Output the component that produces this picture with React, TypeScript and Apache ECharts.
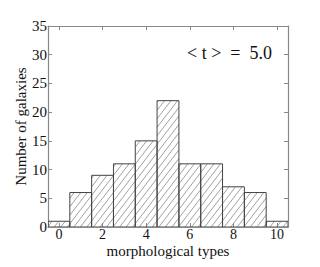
import React, { useEffect, useRef } from "react";
import * as echarts from "echarts";

const types = [0, 1, 2, 3, 4, 5, 6, 7, 8, 9, 10];
const counts = [1, 6, 9, 11, 15, 22, 11, 11, 7, 6, 1];
const xTicks = [0, 2, 4, 6, 8, 10];
const annotation = "< t >  =  5.0";

const FONT = "Liberation Serif";

export default function App() {
  const ref = useRef<HTMLDivElement>(null);
  useEffect(() => {
    if (!ref.current) return;
    const chart = echarts.init(ref.current, null, { renderer: "svg" });
    const slope = 1.3;
    const step = 8.5;
    const renderItem = (params: any, api: any) => {
      const x = api.value(0);
      const y = api.value(1);
      const p0 = api.coord([x - 0.5, y]);
      const p1 = api.coord([x + 0.5, 0]);
      const x0 = p0[0], y0 = p0[1], x1 = p1[0], y1 = p1[1];
      const children: any[] = [];
      const cmin = y0 + slope * x0;
      const cmax = y1 + slope * x1;
      for (let c = Math.ceil(cmin / step) * step; c <= cmax; c += step) {
        const xa = Math.max(x0, (c - y1) / slope);
        const xb = Math.min(x1, (c - y0) / slope);
        if (xb - xa > 0.3) {
          children.push({
            type: "line",
            shape: { x1: xa, y1: c - slope * xa, x2: xb, y2: c - slope * xb },
            style: { stroke: "#777", lineWidth: 0.7 },
            silent: true,
          });
        }
      }
      children.push({
        type: "rect",
        shape: { x: x0, y: y0, width: x1 - x0, height: y1 - y0 },
        style: { fill: "none", stroke: "#444", lineWidth: 1 },
      });
      return { type: "group", children };
    };
    const axisLineStyle = { color: "#888", width: 1.2 };
    chart.setOption({
      animation: false,
      backgroundColor: "#fff",
      textStyle: { fontFamily: FONT },
      grid: { left: 48, right: 32, top: 26, bottom: 40, containLabel: false },
      xAxis: [
        {
          type: "value",
          min: -0.5,
          max: 10.5,
          position: "bottom",
          name: "morphological types",
          nameLocation: "middle",
          nameGap: 16,
          nameMoveOverlap: false,
          nameTextStyle: { fontFamily: FONT, fontSize: 15, color: "#111", verticalAlign: "top" },
          axisLine: { show: true, onZero: false, lineStyle: axisLineStyle },
          axisTick: { show: true, inside: true, length: 4, customValues: xTicks, lineStyle: { color: "#888" } },
          axisLabel: { customValues: xTicks, fontFamily: FONT, fontSize: 14, color: "#111", margin: 0, lineHeight: 15 },
          splitLine: { show: false },
        },
        {
          type: "value",
          min: -0.5,
          max: 10.5,
          position: "top",
          axisLine: { show: true, onZero: false, lineStyle: axisLineStyle },
          axisTick: { show: true, inside: true, length: 4, customValues: xTicks, lineStyle: { color: "#888" } },
          axisLabel: { show: false },
          splitLine: { show: false },
        },
      ],
      yAxis: [
        {
          type: "value",
          min: 0,
          max: 35,
          interval: 5,
          position: "left",
          name: "Number of galaxies",
          nameLocation: "middle",
          nameGap: 20,
          nameMoveOverlap: false,
          nameTextStyle: { fontFamily: FONT, fontSize: 15, color: "#111" },
          axisLine: { show: true, onZero: false, lineStyle: axisLineStyle },
          axisTick: { show: true, inside: true, length: 4, lineStyle: { color: "#888" } },
          axisLabel: { fontFamily: FONT, fontSize: 15, color: "#111", margin: 1 },
          splitLine: { show: false },
        },
        {
          type: "value",
          min: 0,
          max: 35,
          interval: 5,
          position: "right",
          axisLine: { show: true, onZero: false, lineStyle: axisLineStyle },
          axisTick: { show: true, inside: true, length: 4, lineStyle: { color: "#888" } },
          axisLabel: { show: false },
          splitLine: { show: false },
        },
      ],
      series: [
        {
          type: "custom",
          xAxisIndex: 0,
          yAxisIndex: 0,
          renderItem,
          data: types.map((t, i) => [t, counts[i]]),
          clip: true,
        },
      ],
      graphic: [
        {
          type: "text",
          right: 48,
          top: 44,
          style: { text: annotation, font: `18px '${FONT}'`, fill: "#111" },
        },
      ],
    });
    return () => chart.dispose();
  }, []);
  return (
    <div
      ref={ref}
      style={{ position: "absolute", left: 0, top: 0, width: 320, height: 267 }}
    />
  );
}
